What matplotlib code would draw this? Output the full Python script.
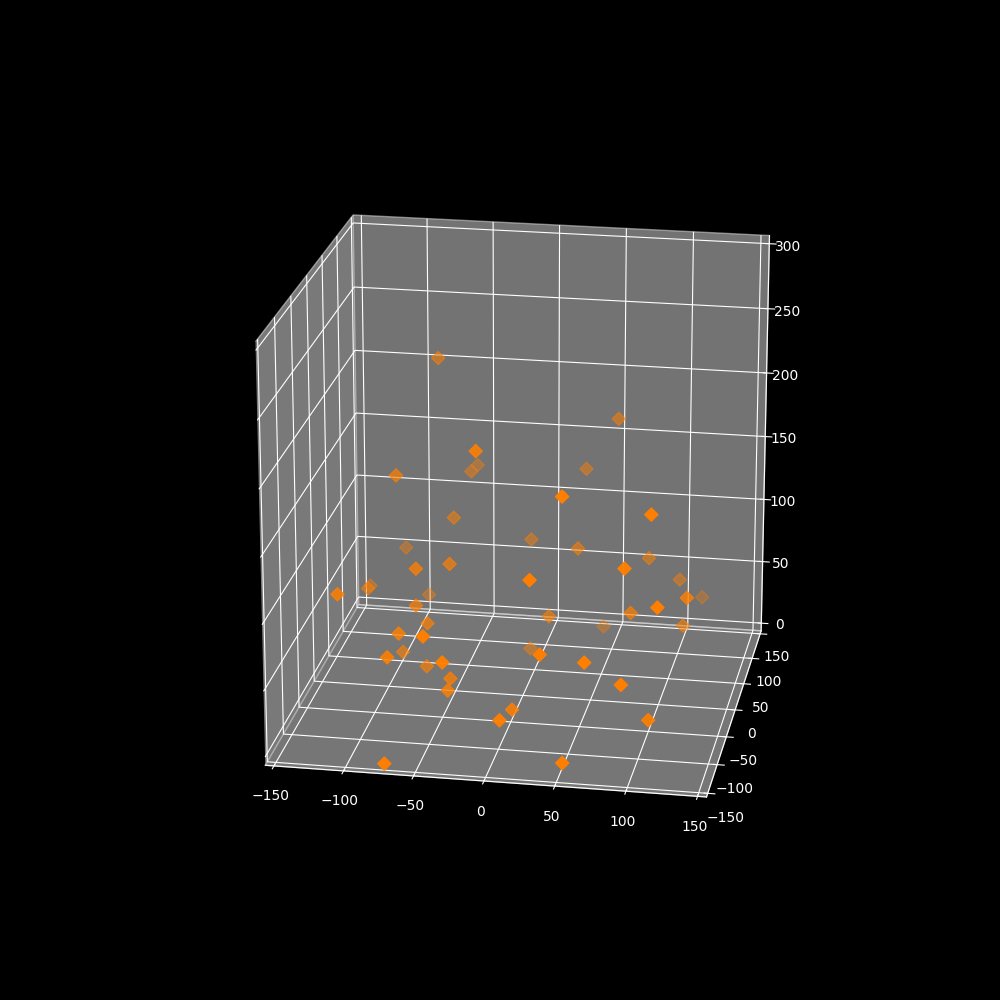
import matplotlib
matplotlib.use('Agg')
import matplotlib.pyplot as plt
import numpy as np

plt.style.use('dark_background')

x_values = [-71, -52, -120, -119, -125, -84, -74, -65, -78, -49, -86, -80, -37, -66, -42, -41, 7, 5, -71,
            33, -7, 83, 85, 22, 103, 123, 114, 111, 79, 17, 44, 112, -3, 32, 63, 89, 106, 52,
            -76, 55, -27, -54, -54, 30, -94, 41, 103, -60, -103]
y_values = [-39, -10, -78, 20, 56, 73, -25, -28, -68, -124, -15, -99, -116, -27, -61, -76, -84, -123, -155,
            45, 76, 63, -72, -98, 85, -24, 131, -89, 0, 13, 99, 39, 49, -114, -111, -111, -93, -137,
            74, 94, -39, 112, 86, 101, 5, -75, -68, 48, 82]
z_values = [103, 97, 95, 62, 50, 39, 69, 57, 64, 86, 28, 58, 64, 23, 29, 26, 18, 26, 1,
            94, 87, 83, 126, 123, 59, 88, 28, 105, 64, 52, 12, 41, 11, 74, 69, 54, 21, 3,
            225, 179, 195, 130, 134, 136, 157, 178, 166, 111, 72]

fig = plt.figure(figsize=(10, 10), dpi=100)
ax = fig.add_subplot(projection='3d')
ax.scatter(x_values, y_values, z_values, marker='D', s=45, color='#ff7f00')
ax.set_xlim(-150, 150, view_margin=1/48)
ax.set_ylim(-150, 150, view_margin=1/48)
ax.set_zlim(0, 300, view_margin=1/48)
ax.set_box_aspect((1, 1, 1), zoom=0.95)
ax.view_init(elev=20, azim=-80)
fig.savefig('out.png', dpi=100)
